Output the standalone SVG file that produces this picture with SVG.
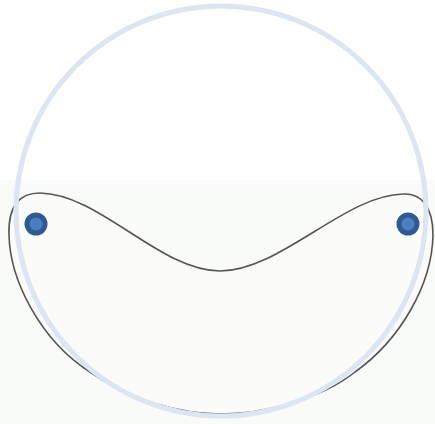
<svg xmlns="http://www.w3.org/2000/svg" width="435" height="424" viewBox="0 0 435 424">
<style>
.dot-o{fill:#2f5a92}
.dot-i{fill:#4a7fc0}
</style>
<rect x="0" y="0" width="435" height="424" fill="#ffffff"/>
<rect x="0" y="180" width="435" height="244" fill="#f9fbf8"/>
<g id="connectors">
<path id="shape" d="M 220,271 C 160,271 100,194 40,193 C 20,193 8,205 9,235 C 10,280 40,340 90,372 C 130,400 180,414 221,414 C 262,414 320,400 355,372 C 400,340 432,285 433,235 C 433,205 420,193 403,194 C 345,195 280,271 220,271 Z" fill="#fbfcfa" stroke="#555" stroke-width="1.6"/>
</g>
<g id="circle">
<circle cx="221" cy="211" r="205" fill="none" stroke="#dce6f2" stroke-width="5"/>
</g>
<g id="dot-left">
<circle class="dot-o" cx="36" cy="224" r="11.5"/>
<circle class="dot-i" cx="36" cy="224" r="6.5"/>
</g>
<g id="dot-right">
<circle class="dot-o" cx="408" cy="224" r="11.5"/>
<circle class="dot-i" cx="408" cy="224" r="6.5"/>
</g>
</svg>
